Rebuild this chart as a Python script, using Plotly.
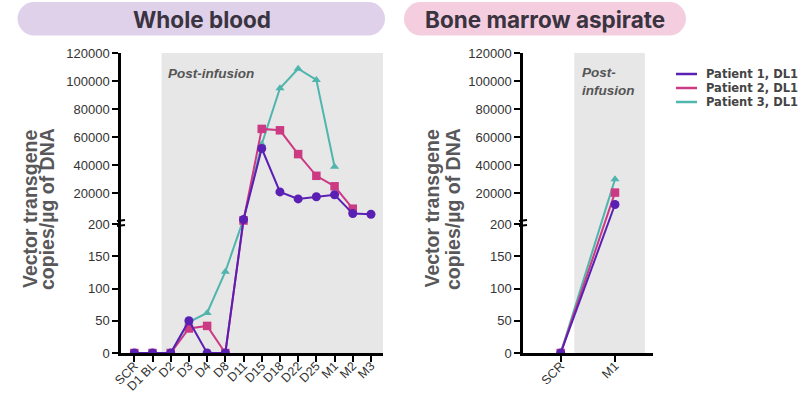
import plotly.graph_objects as go

# ---- data -------------------------------------------------------------
blood_visits = ["SCR", "D1 BL", "D2", "D3", "D4", "D8", "D11", "D15",
                "D18", "D22", "D25", "M1", "M2", "M3"]
blood_p1 = [0, 0, 0, 50, 0, 0, 1300, 52000, 21000, 16000, 17500, 19000, 5500, 5000]
blood_p2 = [0, 0, 0, 38, 42, 0, 570, 66000, 65000, 48000, 32500, 25000, 9000, None]
blood_p3 = [0, 0, 0, 48, 62, 126, 1500, 55000, 95000, 109000, 101000, 39000, None, None]

marrow_visits = ["SCR", "M1"]
marrow_p1 = [0, 12000]
marrow_p2 = [0, 20500]
marrow_p3 = [0, 30000]

lower_ticks = [0, 50, 100, 150, 200]
upper_ticks = [20000, 40000, 60000, 80000, 100000, 120000]

patients = ["Patient 1, DL1", "Patient 2, DL1", "Patient 3, DL1"]
colors = ["#5a1fb3", "#cc3a84", "#4fb5ad"]
symbols = ["circle", "square", "triangle-up"]
marker_sizes = [9, 8.5, 8]

# ---- broken y scale: 0-200 linear below the break, 200-120000 above ----
LOWER_SPAN = 129.0      # axis units used by the 0-200 segment
UPPER_BASE = 131.7      # start of the upper segment (small gap = break)
UPPER_SCALE = 0.0014    # axis units per copy in the upper segment
Y_TOP = 300.0


def broken_axis_position(v):
    if v is None:
        return None
    if v <= 200:
        return v * LOWER_SPAN / 200.0
    return UPPER_BASE + v * UPPER_SCALE


tick_vals = [broken_axis_position(v) for v in lower_ticks + upper_ticks]
tick_text = [str(v) for v in lower_ticks + upper_ticks]

W, H = 801, 393


def px(x):
    return x / W


def py(y):
    return 1 - y / H


fig = go.Figure()

panels = [
    ("x", "y", blood_visits, [blood_p1, blood_p2, blood_p3]),
    ("x2", "y2", marrow_visits, [marrow_p1, marrow_p2, marrow_p3]),
]
for xa, ya, cats, series in panels:
    # patient 3 underneath, patient 1 on top
    for i in [2, 1, 0]:
        fig.add_trace(go.Scatter(
            x=list(range(len(cats))),
            y=[broken_axis_position(v) for v in series[i]],
            mode="lines+markers",
            name=patients[i],
            line=dict(color=colors[i], width=2),
            marker=dict(color=colors[i], symbol=symbols[i], size=marker_sizes[i]),
            connectgaps=False,
            showlegend=False,
            xaxis=xa, yaxis=ya,
        ))

tick_font = dict(family="Liberation Sans, Arial, sans-serif", size=13, color="#333333")
axis_common = dict(showline=True, linecolor="black", linewidth=2.5, ticks="outside",
                   ticklen=6, tickwidth=2, tickcolor="black", showgrid=False,
                   zeroline=False, automargin=False)
x_extra = dict(tickangle=-45, ticklabelstandoff=-8,
               tickfont=dict(family="Liberation Sans, Arial, sans-serif", size=12.5,
                             color="#333333"))

ydom = [(H - 353) / H, (H - 53) / H]

fig.update_layout(
    width=W, height=H,
    margin=dict(l=0, r=0, t=0, b=0, autoexpand=False),
    paper_bgcolor="white", plot_bgcolor="white",
    xaxis=dict(domain=[px(121), px(383)], anchor="y", range=[-0.73, 13.66],
               tickvals=list(range(len(blood_visits))), ticktext=blood_visits,
               **x_extra, **axis_common),
    yaxis=dict(domain=ydom, anchor="x", range=[0, Y_TOP], tickfont=tick_font,
               tickvals=tick_vals, ticktext=tick_text, **axis_common),
    xaxis2=dict(domain=[px(523), px(653)], anchor="y2", range=[-0.694, 1.70],
                tickvals=list(range(len(marrow_visits))), ticktext=marrow_visits,
                **x_extra, **axis_common),
    yaxis2=dict(domain=ydom, anchor="x2", range=[0, Y_TOP], tickfont=tick_font,
                tickvals=tick_vals, ticktext=tick_text, **axis_common),
    showlegend=False,
)

shapes = []
# post-infusion shading
shapes.append(dict(type="rect", xref="x", yref="y", x0=1.5, x1=13.66, y0=0, y1=Y_TOP,
                   fillcolor="#e7e7e7", line=dict(width=0), layer="below"))
shapes.append(dict(type="rect", xref="x2", yref="y2", x0=0.25, x1=1.55, y0=0, y1=Y_TOP,
                   fillcolor="#e7e7e7", line=dict(width=0), layer="below"))

# axis break marks
for ax_x in (121, 523):
    for by in (220.5, 225.5):
        shapes.append(dict(type="line", xref="paper", yref="paper",
                           x0=px(ax_x - 4), x1=px(ax_x + 4), y0=py(by + 0.5), y1=py(by - 0.5),
                           line=dict(color="black", width=2)))


def pill(x0, x1, y0, y1, color):
    r = (y1 - y0) / 2
    k = 0.5523 * r
    pts = [
        ("M", [(x0 + r, y0)]),
        ("L", [(x1 - r, y0)]),
        ("C", [(x1 - r + k, y0), (x1, y0 + r - k), (x1, y0 + r)]),
        ("C", [(x1, y0 + r + k), (x1 - r + k, y1), (x1 - r, y1)]),
        ("L", [(x0 + r, y1)]),
        ("C", [(x0 + r - k, y1), (x0, y0 + r + k), (x0, y0 + r)]),
        ("C", [(x0, y0 + r - k), (x0 + r - k, y0), (x0 + r, y0)]),
    ]
    path = ""
    for cmd, coords in pts:
        path += cmd + " ".join(f"{px(a):.5f},{py(b):.5f}" for a, b in coords) + " "
    return dict(type="path", xref="paper", yref="paper", path=path + "Z",
                fillcolor=color, line=dict(width=0), layer="below")


shapes.append(pill(17.5, 385, 2, 35.5, "#dfd1ea"))
shapes.append(pill(404, 686, 2, 35.5, "#f4cddf"))

# legend keys
legend_rows = [74, 88, 102]
for i, ry in enumerate(legend_rows):
    shapes.append(dict(type="line", xref="paper", yref="paper",
                       x0=px(676), x1=px(697), y0=py(ry), y1=py(ry),
                       line=dict(color=colors[i], width=2.5)))

fig.update_layout(shapes=shapes)

annotations = []
title_font = dict(family="Inter, Lato, sans-serif", size=22.5, color="#3a3340")
annotations.append(dict(text="<b>Whole blood</b>", x=px(201.5), y=py(19), xref="paper",
                        yref="paper", showarrow=False, font=title_font,
                        xanchor="center", yanchor="middle"))
annotations.append(dict(text="<b>Bone marrow aspirate</b>", x=px(545), y=py(19), xref="paper",
                        yref="paper", showarrow=False, font=title_font,
                        xanchor="center", yanchor="middle"))

ytitle_font = dict(family="Liberation Sans, Arial, sans-serif", size=19.5, color="#58585a")
for cx1, cx2 in ((30, 47), (431.5, 453)):
    annotations.append(dict(text="<b>Vector transgene</b>", x=px(cx1), y=py(209),
                            xref="paper", yref="paper", showarrow=False, textangle=-90,
                            font=ytitle_font, xanchor="center", yanchor="middle"))
    annotations.append(dict(text="<b>copies/µg of DNA</b>", x=px(cx2), y=py(209),
                            xref="paper", yref="paper", showarrow=False, textangle=-90,
                            font=ytitle_font, xanchor="center", yanchor="middle"))

post_font = dict(family="Liberation Sans, Arial, sans-serif", size=13.5, color="#555555")
annotations.append(dict(text="<b><i>Post-infusion</i></b>", x=px(166), y=py(73.5),
                        xref="paper", yref="paper", showarrow=False, font=post_font,
                        xanchor="left", yanchor="middle"))
annotations.append(dict(text="<b><i>Post-<br>infusion</i></b>", x=px(579.5), y=py(81),
                        xref="paper", yref="paper", showarrow=False, font=post_font,
                        xanchor="left", yanchor="middle", align="left"))

# legend labels: one text block with a 14 px line pitch
legend_text = "<br>".join(
    f'<span style="font-size:11.5px"><b>{p}</b></span>' for p in patients)
annotations.append(dict(text=legend_text, x=px(704), y=py(88),
                        xref="paper", yref="paper", showarrow=False,
                        font=dict(family="DejaVu Sans, Verdana, sans-serif", size=10.77,
                                  color="#444444"),
                        xanchor="left", yanchor="middle", align="left"))

fig.update_layout(annotations=annotations)

fig.write_html("out.html")
